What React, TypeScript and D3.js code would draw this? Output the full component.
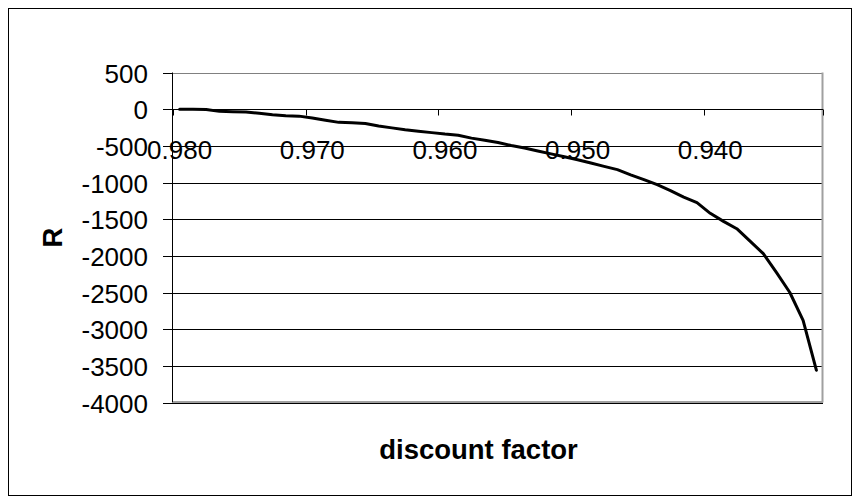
import React from "react";
import * as d3 from "d3";

// discount factor categories (reversed axis, 0.980 on the left)
const factors: string[] = [
    "0.980", "0.979", "0.978", "0.977", "0.976", "0.975", "0.974", "0.973", "0.972", "0.971",
    "0.970", "0.969", "0.968", "0.967", "0.966", "0.965", "0.964", "0.963", "0.962", "0.961",
    "0.960", "0.959", "0.958", "0.957", "0.956", "0.955", "0.954", "0.953", "0.952", "0.951",
    "0.950", "0.949", "0.948", "0.947", "0.946", "0.945", "0.944", "0.943", "0.942", "0.941",
    "0.940", "0.939", "0.938", "0.937", "0.936", "0.935", "0.934", "0.933", "0.932",
]

// R values
const rValues: number[] = [
    0, 0, -5, -30, -35, -40, -55, -75, -90, -95,
    -120, -150, -180, -185, -195, -230, -255, -280, -300, -320,
    -340, -355, -395, -425, -455, -495, -530, -570, -610, -650,
    -690, -735, -780, -825, -895, -960, -1030, -1110, -1200, -1275,
    -1420, -1530, -1630, -1800, -1970, -2230, -2500, -2880, -3560,
]

const labelFactors: string[] = ["0.980", "0.970", "0.960", "0.950", "0.940"]
const yTicks: number[] = [500, 0, -500, -1000, -1500, -2000, -2500, -3000, -3500, -4000]

const font = "'Liberation Sans', Arial, sans-serif"

const App = () => {
    const left = 173
    const right = 823
    const top = 72.5
    const bottom = 402.5

    const x = d3.scaleBand<string>()
        .domain(factors)
        .range([left, right])
        .padding(0)
    const bw = x.bandwidth()

    const y = d3.scaleLinear()
        .domain([-4000, 500])
        .range([bottom, top])

    const data = factors.map((f, i) => ({f, v: rValues[i]}))

    const lineGenerator = d3.line<{ f: string, v: number }>()
        .x(d => (x(d.f) as number) + bw / 2)
        .y(d => y(d.v))

    const y0 = Math.round(y(0)) + 0.5
    // tick marks on the category axis sit between categories, every 10
    const xTickPos = [...labelFactors.map(f => x(f) as number), right]

    return (
        <svg width={860} height={504} style={{position: "absolute", left: 0, top: 0}}>
            <rect x={0} y={0} width={860} height={504} fill="#fff"/>
            <rect x={8.5} y={8.5} width={843} height={487} fill="none" stroke="#000" strokeWidth={1}/>

            {/* gridlines + y ticks */}
            {yTicks.map(t => {
                const yy = Math.round(y(t)) + 0.5
                return (
                    <g key={t}>
                        <line x1={163} x2={t === 500 ? left : right} y1={yy} y2={yy} stroke="#000" strokeWidth={1}/>
                        {t === 500 && <line x1={left} x2={right} y1={yy} y2={yy} stroke="#808080" strokeWidth={1}/>}
                        <text x={148} y={yy} textAnchor="end" dominantBaseline="central"
                              fontFamily={font} fontSize={26} fill="#000">{t}</text>
                    </g>
                )
            })}

            {/* plot area border */}
            <line x1={right - 0.5} x2={right - 0.5} y1={top} y2={bottom} stroke="#a0a0a0" strokeWidth={2}/>
            <line x1={left} x2={right} y1={bottom - 0.5} y2={bottom - 0.5} stroke="#a0a0a0" strokeWidth={2}/>

            {/* value axis */}
            <line x1={left - 0.5} x2={left - 0.5} y1={top} y2={bottom} stroke="#000" strokeWidth={1}/>

            {/* category axis crossing at 0 */}
            <line x1={left} x2={right} y1={y0} y2={y0} stroke="#000" strokeWidth={1}/>
            {xTickPos.map((p, i) => (
                <line key={i} x1={Math.round(p) + 0.5} x2={Math.round(p) + 0.5} y1={y0} y2={y0 + 6}
                      stroke="#000" strokeWidth={1}/>
            ))}

            <path d={lineGenerator(data) || ""} fill="none" stroke="#000" strokeWidth={3}
                  strokeLinejoin="round" strokeLinecap="round"/>

            {labelFactors.map(f => (
                <text key={f} x={(x(f) as number) + bw / 2} y={159} textAnchor="middle"
                      fontFamily={font} fontSize={26} fill="#000">{f}</text>
            ))}

            <text x={478.5} y={459} textAnchor="middle" fontFamily={font} fontSize={27.5}
                  fontWeight="bold" fill="#000">discount factor</text>
            <text transform={`translate(52,${(top + bottom) / 2}) rotate(-90)`} textAnchor="middle"
                  dominantBaseline="central" fontFamily={font} fontSize={27.5} fontWeight="bold"
                  fill="#000">R</text>
        </svg>
    )
}

export default App
